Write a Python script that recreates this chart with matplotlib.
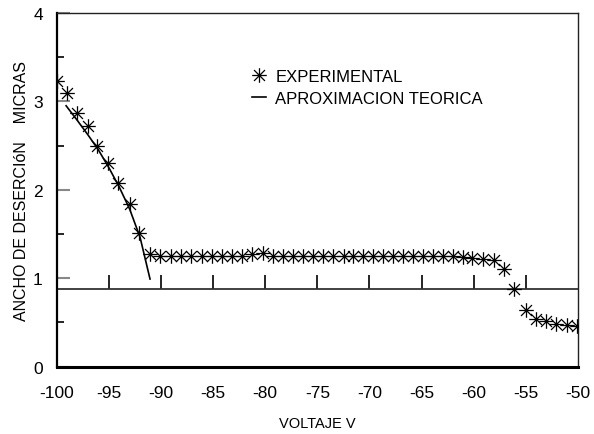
import matplotlib
matplotlib.use("Agg")
import matplotlib.pyplot as plt
from matplotlib.path import Path
from matplotlib.ticker import MultipleLocator

plt.rcParams['font.family'] = ['Liberation Sans', 'DejaVu Sans']

# Experimental data (voltage V, depletion width in microns)
exp_v = [-100.0, -99.0, -98.1, -97.0, -96.1, -95.1, -94.1, -93.0, -92.1,
         -91.05, -90.1, -89.07, -88.08, -87.12, -86.1, -85.08, -84.18, -83.22,
         -82.2, -81.25, -80.19, -79.29, -78.33, -77.37, -76.41, -75.4, -74.44,
         -73.48, -72.45, -71.56, -70.66, -69.7, -68.74, -67.73, -66.83, -65.81,
         -64.85, -63.89, -62.93, -61.97, -61.02, -60.12, -59.1, -58.08, -57.12,
         -56.13, -55.03, -53.98, -53.02, -52.06, -51.05, -50.14]
exp_w = [3.23, 3.09, 2.87, 2.72, 2.49, 2.30, 2.08, 1.84, 1.51,
         1.27, 1.25, 1.25, 1.25, 1.25, 1.25, 1.25, 1.25, 1.25,
         1.25, 1.27, 1.28, 1.25, 1.25, 1.25, 1.25, 1.25, 1.25,
         1.25, 1.25, 1.25, 1.25, 1.25, 1.25, 1.25, 1.25, 1.25,
         1.25, 1.25, 1.25, 1.25, 1.24, 1.23, 1.22, 1.21, 1.10,
         0.88, 0.64, 0.54, 0.51, 0.48, 0.47, 0.46]

# Theoretical approximation
teo_v = [-99.1, -98.0, -97.0, -96.0, -95.0, -94.0, -93.0, -92.0, -91.05]
teo_w = [2.95, 2.78, 2.62, 2.45, 2.25, 2.03, 1.78, 1.46, 0.99]

# Horizontal reference level
ref_w = 0.875

x_ticks = [-100, -95, -90, -85, -80, -75, -70, -65, -60, -55, -50]
y_ticks = [0, 1, 2, 3, 4]

star = Path([(0, -1), (0, 1), (-0.75, -0.75), (0.75, 0.75),
             (-0.75, 0.75), (0.75, -0.75), (-1, 0), (1, 0)],
            [Path.MOVETO, Path.LINETO, Path.MOVETO, Path.LINETO,
             Path.MOVETO, Path.LINETO, Path.MOVETO, Path.LINETO])

fig = plt.figure(figsize=(5.94, 4.35), dpi=100)
ax = fig.add_axes([0.0955, 0.155, 0.8775, 0.813])

ax.plot(exp_v, exp_w, linestyle='none', marker=star, markersize=10.5,
        markeredgewidth=0.9, color='black', label='EXPERIMENTAL', zorder=3)
ax.plot(teo_v, teo_w, color='black', linewidth=1.2, label='APROXIMACION TEORICA')
ax.axhline(ref_w, color='#333333', linewidth=1.3)

ax.set_xlim(-100, -50)
ax.set_ylim(0, 4)
ax.set_xticks(x_ticks)
ax.set_xticklabels([str(t) for t in x_ticks])
ax.set_yticks(y_ticks)
ax.set_yticklabels([str(t) for t in y_ticks])
ax.yaxis.set_minor_locator(MultipleLocator(0.5))

ax.tick_params(axis='x', length=0, pad=13, labelsize=12.5)
ax.tick_params(axis='y', which='major', direction='in', length=9, width=1.5,
               color='#888888', pad=10, labelsize=12.5)
ax.tick_params(axis='y', which='minor', direction='in', length=5, width=1.2,
               color='black')

# secondary axis at the reference level carrying the x ticks
sec = ax.secondary_xaxis(ref_w / 4.0)
sec.set_xticks(x_ticks[1:-1])
sec.tick_params(direction='in', length=10, width=1.2, color='black',
                labelbottom=False)
sec.spines['bottom'].set_visible(False)

for side in ['top', 'right']:
    ax.spines[side].set_linewidth(1.0)
    ax.spines[side].set_color('#222222')
ax.spines['left'].set_linewidth(1.6)
ax.spines['bottom'].set_linewidth(2.2)

ax.set_xlabel('VOLTAJE V', fontsize=10.5, labelpad=12)
ax.set_ylabel('ANCHO DE DESERCIóN    MICRAS', fontsize=11.5, labelpad=3)

ax.legend(loc='upper left', bbox_to_anchor=(0.362, 0.861), frameon=False,
          fontsize=12, handlelength=0.84, handletextpad=0.55, labelspacing=0.44,
          borderaxespad=0)

fig.savefig('out.png', dpi=100)
